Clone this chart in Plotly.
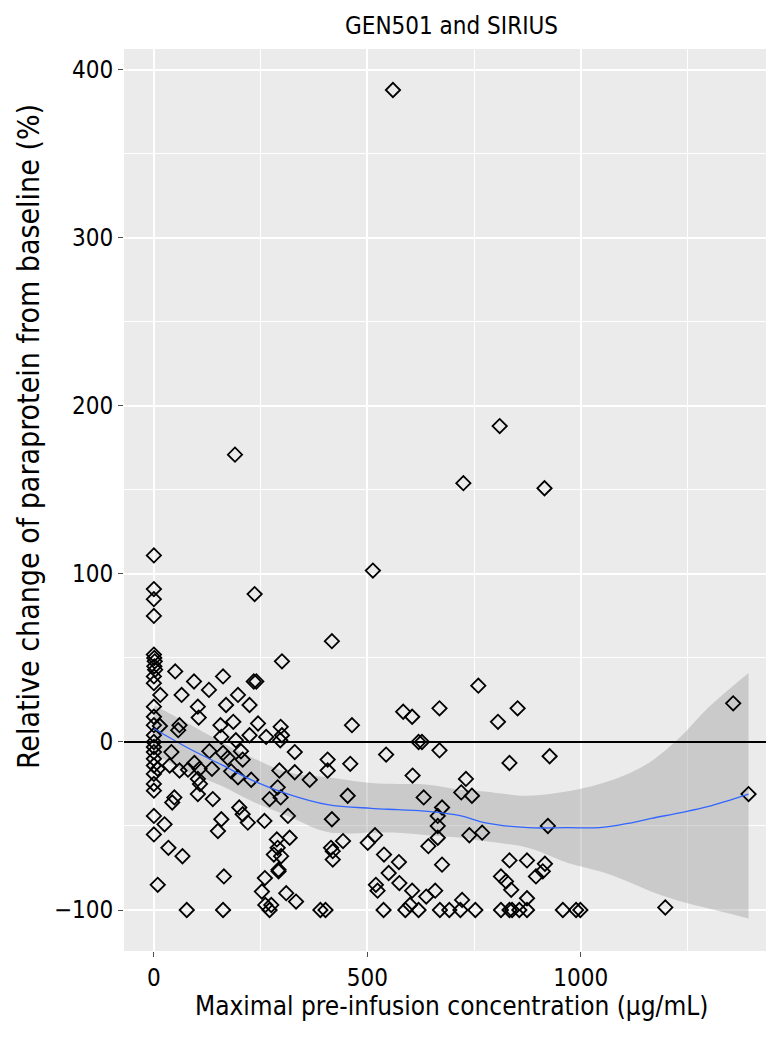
import plotly.graph_objects as go

# ── data ───────────────────────────────────────────────────
conc = [
    0, 0, 0, 0, 0, 1, 2, 1, 3, 0, 0, 0, 0, 0, 0, 0, 0, 0, 0, 0, 0, 0, 0, 0, 0,
    9, 15, 14, 9, 25, 34, 37, 41, 48, 43, 50, 57, 60, 60, 65, 67, 77, 80, 94, 103,
    95, 103, 105, 103, 108, 129, 130, 138, 150, 156, 158, 158, 162, 162, 162, 164, 169, 173, 181, 186,
    190, 192, 197, 197, 200, 204, 208, 208, 220, 224, 224, 228, 236, 234, 240, 244, 253, 260, 259, 261,
    263, 271, 271, 275, 281, 288, 290, 290, 292, 294, 297, 297, 300, 296, 300, 298, 310, 314, 318, 330,
    330, 333, 365, 390, 402, 407, 407, 417, 417, 415, 419, 419, 443, 454, 460, 464, 501, 513, 518, 520,
    524, 538, 539, 544, 550, 560, 574, 575, 584, 589, 600, 605, 605, 606, 620, 620, 628, 632, 638, 643,
    659, 665, 665, 665, 669, 669, 670, 675, 675, 692, 718, 720, 722, 725, 731, 739, 745, 753, 760, 769,
    806, 810, 813, 813, 825, 833, 833, 833, 837, 839, 852, 856, 874, 874, 874, 895, 911, 915, 916, 923,
    927, 958, 989, 999, 1198, 1357, 1393,
    107, 136, 292,
]
change = [
    111, 91, 85, 75, 52, 50, 48, 45, 43, 39, 35, 21, 15, 10, 4, 0, -3, -6, -10, -14, -19, -25, -29, -44, -55,
    -16, 28, 9.5, -85, -49, -63, -14, -6, -33, -36, 42, 7, 10, -17, 28, -68, -100, -16.5, 36, 21,
    -12.5, -22, 14.5, -31, -25, 31, -5.5, -34, -53, 10, 3, -46, 39, -6.5, -100, -80, 22, -9.5, -17.5, 12,
    171, 1, 28, -21, -39, -5.5, -10.5, -43, -48, 22, 4, -22.5, 88, 36, 36, 11, -89, -81, -47, -97,
    3, -34, -100, -97, -67, -58, -63, -27, -77, -17, 9, -33, 4, 1, 48, -68, -90, -44, -57, -6,
    -18, -95, -22.5, -100, -100, -10.5, -17, 60, -46, -63, -65, -70, -59, -32, -13, 10, -60, 102, -55.5, -85,
    -88.5, -100, -67, -7.5, -78, 388, -71.5, -84, 18, -100, -97, 15, -88.5, -20, -100, 0, 0, -33, -92, -62,
    -88.5, -44, -50, -57, 20, -5, -100, -39, -73, -100, -100, -30, -94, 154, -22, -55.5, -32, -100, 33.5, -54,
    12, 188, -80, -100, -83, -12.5, -70.5, -100, -88, -100, 20, -100, -70.5, -93, -100, -80, -77, 151, -72.5, -50,
    -8.5, -100, -100, -100, -98.5, 23, -31,
    -16, -16, -76,
]

# loess curve with its confidence band
smooth_x = [0, 80, 158, 236, 314, 407, 509, 571, 642, 720, 774, 876, 970, 1044, 1110, 1165, 1235, 1297, 1393]
smooth_fit = [8, -3.6, -13.5, -23.4, -31, -37.3, -39.5, -40.3, -41.3, -44, -48, -51, -51, -51, -48.5, -45.5, -42, -38.5, -31]
smooth_hi = [22, 11, 0, -10, -18, -21, -24.4, -25, -25.4, -28.5, -29.5, -32, -29.4, -25, -19, -11.5, 3.4, 20, 41]
smooth_lo = [-7, -18, -26, -36, -44, -53.6, -54, -54, -55.5, -57, -59, -63, -72, -77, -83, -89, -95, -99, -105]

FONT = "Liberation Sans Narrow, DejaVu Sans Condensed, Arial Narrow, sans-serif"

fig = go.Figure()

# band: lower edge, then upper edge filled down to it
fig.add_trace(go.Scatter(
    x=smooth_x, y=smooth_lo, mode="lines",
    line=dict(width=0, shape="spline"),
    hoverinfo="skip", showlegend=False,
))
fig.add_trace(go.Scatter(
    x=smooth_x, y=smooth_hi, mode="lines",
    line=dict(width=0, shape="spline"),
    fill="tonexty", fillcolor="rgba(153,153,153,0.4)",
    hoverinfo="skip", showlegend=False,
))

fig.add_trace(go.Scatter(
    x=conc,
    y=change,
    mode="markers",
    marker=dict(symbol="diamond-open", size=11, color="black", line=dict(width=1.8, color="black")),
    showlegend=False,
))

fig.add_trace(go.Scatter(
    x=smooth_x,
    y=smooth_fit,
    mode="lines",
    line=dict(color="#3366FF", width=1.3, shape="spline"),
    showlegend=False,
))

fig.add_hline(y=0, line=dict(color="black", width=2))

fig.update_layout(
    width=774,
    height=1045,
    margin=dict(l=116, r=4, t=41, b=102),
    paper_bgcolor="white",
    plot_bgcolor="#EBEBEB",
    font=dict(family=FONT, color="black"),
    showlegend=False,
    annotations=[
        dict(text="GEN501 and SIRIUS", xref="paper", yref="paper", x=0.5, y=1.0255,
             xanchor="center", yanchor="middle", showarrow=False, font=dict(size=24, family=FONT)),
        dict(text="Maximal pre-infusion concentration (µg/mL)", xref="paper", yref="paper",
             x=0.5, y=-0.061, xanchor="center", yanchor="middle", showarrow=False,
             font=dict(size=26, family=FONT)),
        dict(text="Relative change of paraprotein from baseline (%)", xref="paper", yref="paper",
             x=-0.145, y=0.57, xanchor="center", yanchor="middle", textangle=-90, showarrow=False,
             font=dict(size=30, family=FONT)),
    ],
)

fig.update_xaxes(
    range=[-70, 1462],
    tickvals=[0, 500, 1000],
    showgrid=True, gridcolor="white", gridwidth=1.6,
    minor=dict(dtick=250, tick0=0, showgrid=True, gridcolor="white", gridwidth=0.8),
    ticks="outside", ticklen=5, tickcolor="#4D4D4D", tickwidth=1.2,
    tickfont=dict(size=24, family=FONT, color="black"),
    zeroline=False, showline=False,
)
fig.update_yaxes(
    range=[-124.4, 412.4],
    tickvals=[-100, 0, 100, 200, 300, 400],
    ticktext=["\u2212100", "0", "100", "200", "300", "400"],
    showgrid=True, gridcolor="white", gridwidth=1.6,
    minor=dict(dtick=50, tick0=0, showgrid=True, gridcolor="white", gridwidth=0.8),
    ticks="outside", ticklen=5, tickcolor="#4D4D4D", tickwidth=1.2,
    tickfont=dict(size=24, family=FONT, color="black"),
    zeroline=False, showline=False,
)

fig.write_html("out.html")
